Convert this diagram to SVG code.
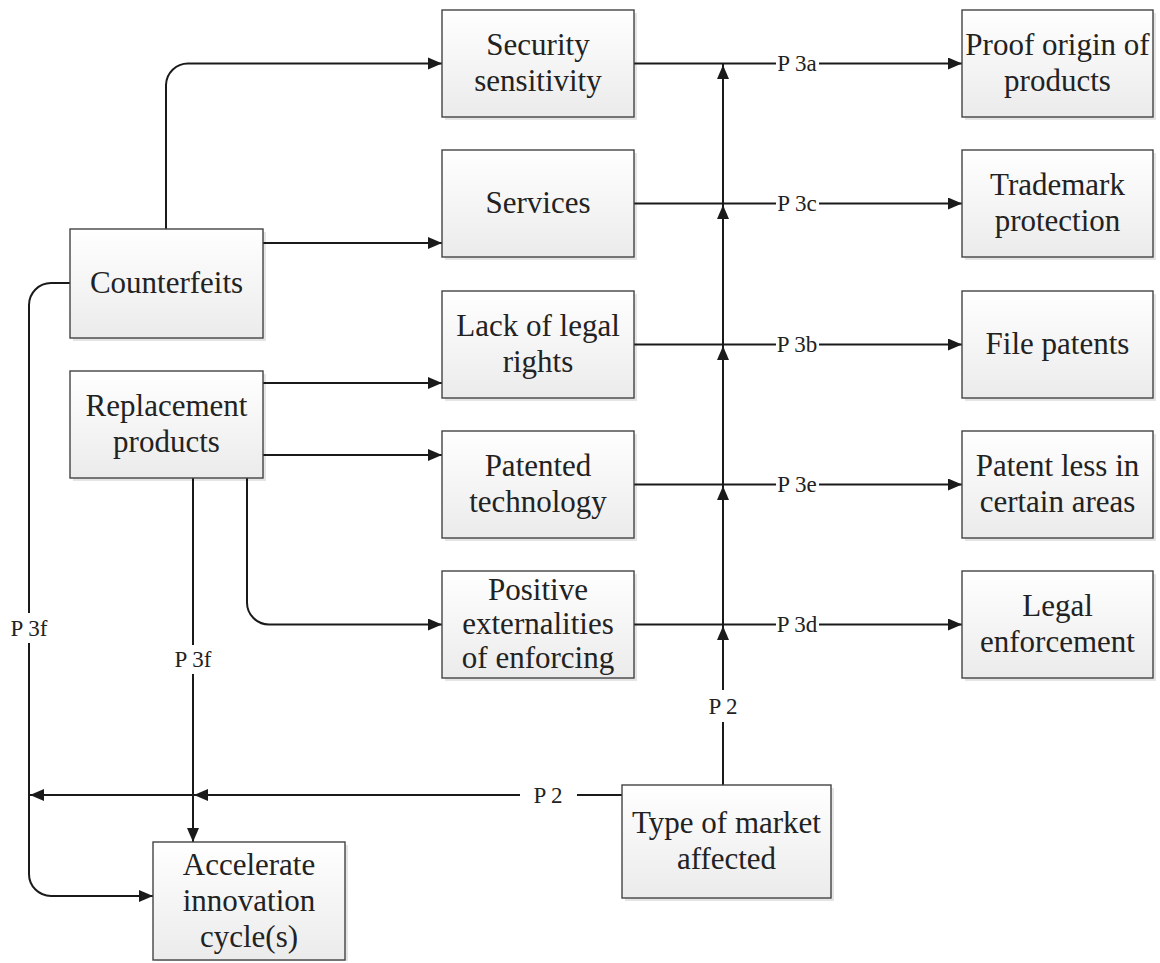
<svg xmlns="http://www.w3.org/2000/svg" width="1160" height="963" viewBox="0 0 1160 963">
  <defs>
    <linearGradient id="boxFill" x1="0" y1="0" x2="0" y2="1">
      <stop offset="0" stop-color="#ffffff"/>
      <stop offset="1" stop-color="#ebebeb"/>
    </linearGradient>
    <marker id="arrow" viewBox="0 0 14 12" refX="14" refY="6" markerWidth="14" markerHeight="12" markerUnits="userSpaceOnUse" orient="auto">
      <path d="M0,0 L14,6 L0,12 z" fill="#1a1a1a"/>
    </marker>
    <style>
      .shadow { fill: #000000; opacity: 0.10; }
      .box { fill: url(#boxFill); stroke: #444444; stroke-width: 1.4; }
      .lbl { font-family: "Liberation Serif", "DejaVu Serif", serif; font-size: 31px; fill: #222222; text-anchor: middle; }
      .tag { font-family: "Liberation Serif", "DejaVu Serif", serif; font-size: 23px; fill: #222222; text-anchor: middle; }
      .wire { fill: none; stroke: #1a1a1a; stroke-width: 2; }
      .arr { marker-end: url(#arrow); }
    </style>
  </defs>
  <rect width="1160" height="963" fill="#ffffff"/>

  <!-- connectors -->
  <g id="connectors">
    <!-- Counterfeits -->
    <path class="wire arr" d="M166,229 V85 A22,22 0 0 1 188,63.5 H442"/>
    <path class="wire arr" d="M263,243 H442"/>
    <path class="wire" d="M70,283 H51 A22,22 0 0 0 29,305 V613"/>
    <path class="wire arr" d="M29,643 V874 A22,22 0 0 0 51,896 H153"/>
    <!-- Replacement products -->
    <path class="wire arr" d="M263,383 H442"/>
    <path class="wire arr" d="M263,455 H442"/>
    <path class="wire arr" d="M247,478 V602.5 A22,22 0 0 0 269,624.5 H442"/>
    <path class="wire" d="M193,478 V645"/>
    <path class="wire arr" d="M193,674 V842"/>
    <!-- middle column to right column -->
    <path class="wire" d="M634,63.5 H776"/>
    <path class="wire arr" d="M819,63.5 H962"/>
    <path class="wire" d="M634,203.5 H776"/>
    <path class="wire arr" d="M819,203.5 H962"/>
    <path class="wire" d="M634,344.5 H776"/>
    <path class="wire arr" d="M819,344.5 H962"/>
    <path class="wire" d="M634,484.5 H776"/>
    <path class="wire arr" d="M819,484.5 H962"/>
    <path class="wire" d="M634,624.5 H776"/>
    <path class="wire arr" d="M819,624.5 H962"/>
    <!-- Type of market affected: upward trunk -->
    <path class="wire" d="M723,785 V722"/>
    <path class="wire" d="M723,690 V63.5"/>
    <path class="wire arr" d="M723,120 V65"/>
    <path class="wire arr" d="M723,260 V205"/>
    <path class="wire arr" d="M723,400 V346"/>
    <path class="wire arr" d="M723,540 V486"/>
    <path class="wire arr" d="M723,680 V626"/>
    <!-- Type of market affected: leftward trunk -->
    <path class="wire" d="M622,795 H577"/>
    <path class="wire" d="M520,795 H29"/>
    <path class="wire arr" d="M240,795 H194"/>
    <path class="wire arr" d="M70,795 H30"/>
    <!-- proposition tags -->
    <text class="tag" x="797" y="71">P 3a</text>
    <text class="tag" x="797" y="211">P 3c</text>
    <text class="tag" x="797" y="352">P 3b</text>
    <text class="tag" x="797" y="492">P 3e</text>
    <text class="tag" x="797" y="632">P 3d</text>
    <text class="tag" x="723" y="714">P 2</text>
    <text class="tag" x="548" y="803">P 2</text>
    <text class="tag" x="29" y="636">P 3f</text>
    <text class="tag" x="193" y="667">P 3f</text>
  </g>

  <!-- left column -->
  <g id="counterfeits">
    <rect class="shadow" x="73" y="232" width="193" height="109"/>
    <rect class="box" x="70" y="229" width="193" height="109"/>
    <text class="lbl" x="166.5" y="293">Counterfeits</text>
  </g>
  <g id="replacement-products">
    <rect class="shadow" x="73" y="374" width="193" height="107"/>
    <rect class="box" x="70" y="371" width="193" height="107"/>
    <text class="lbl" x="166.5" y="416">Replacement</text>
    <text class="lbl" x="166.5" y="452">products</text>
  </g>

  <!-- middle column -->
  <g id="security-sensitivity">
    <rect class="shadow" x="445" y="13" width="192" height="107"/>
    <rect class="box" x="442" y="10" width="192" height="107"/>
    <text class="lbl" x="538" y="55">Security</text>
    <text class="lbl" x="538" y="91">sensitivity</text>
  </g>
  <g id="services">
    <rect class="shadow" x="445" y="153" width="192" height="107"/>
    <rect class="box" x="442" y="150" width="192" height="107"/>
    <text class="lbl" x="538" y="213">Services</text>
  </g>
  <g id="lack-of-legal-rights">
    <rect class="shadow" x="445" y="294" width="192" height="107"/>
    <rect class="box" x="442" y="291" width="192" height="107"/>
    <text class="lbl" x="538" y="336">Lack of legal</text>
    <text class="lbl" x="538" y="372">rights</text>
  </g>
  <g id="patented-technology">
    <rect class="shadow" x="445" y="434" width="192" height="107"/>
    <rect class="box" x="442" y="431" width="192" height="107"/>
    <text class="lbl" x="538" y="476">Patented</text>
    <text class="lbl" x="538" y="512">technology</text>
  </g>
  <g id="positive-externalities">
    <rect class="shadow" x="445" y="574" width="192" height="107"/>
    <rect class="box" x="442" y="571" width="192" height="107"/>
    <text class="lbl" x="538" y="600">Positive</text>
    <text class="lbl" x="538" y="634">externalities</text>
    <text class="lbl" x="538" y="668">of enforcing</text>
  </g>

  <!-- right column -->
  <g id="proof-origin">
    <rect class="shadow" x="965" y="13" width="191" height="107"/>
    <rect class="box" x="962" y="10" width="191" height="107"/>
    <text class="lbl" x="1057.5" y="55">Proof origin of</text>
    <text class="lbl" x="1057.5" y="91">products</text>
  </g>
  <g id="trademark-protection">
    <rect class="shadow" x="965" y="153" width="191" height="107"/>
    <rect class="box" x="962" y="150" width="191" height="107"/>
    <text class="lbl" x="1057.5" y="195">Trademark</text>
    <text class="lbl" x="1057.5" y="231">protection</text>
  </g>
  <g id="file-patents">
    <rect class="shadow" x="965" y="294" width="191" height="107"/>
    <rect class="box" x="962" y="291" width="191" height="107"/>
    <text class="lbl" x="1057.5" y="354">File patents</text>
  </g>
  <g id="patent-less">
    <rect class="shadow" x="965" y="434" width="191" height="107"/>
    <rect class="box" x="962" y="431" width="191" height="107"/>
    <text class="lbl" x="1057.5" y="476">Patent less in</text>
    <text class="lbl" x="1057.5" y="512">certain areas</text>
  </g>
  <g id="legal-enforcement">
    <rect class="shadow" x="965" y="574" width="191" height="107"/>
    <rect class="box" x="962" y="571" width="191" height="107"/>
    <text class="lbl" x="1057.5" y="616">Legal</text>
    <text class="lbl" x="1057.5" y="652">enforcement</text>
  </g>

  <!-- bottom -->
  <g id="type-of-market">
    <rect class="shadow" x="625" y="788" width="209" height="113"/>
    <rect class="box" x="622" y="785" width="209" height="113"/>
    <text class="lbl" x="726.5" y="833">Type of market</text>
    <text class="lbl" x="726.5" y="869">affected</text>
  </g>
  <g id="accelerate-innovation">
    <rect class="shadow" x="156" y="845" width="192" height="116"/>
    <rect class="box" x="153" y="842" width="192" height="118"/>
    <text class="lbl" x="249" y="875">Accelerate</text>
    <text class="lbl" x="249" y="911">innovation</text>
    <text class="lbl" x="249" y="947">cycle(s)</text>
  </g>
</svg>
